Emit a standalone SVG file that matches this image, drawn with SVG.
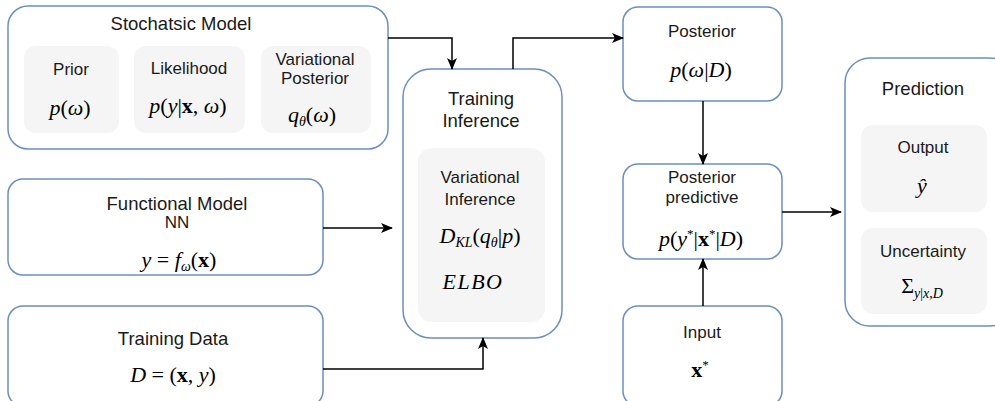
<svg xmlns="http://www.w3.org/2000/svg" width="995" height="401" viewBox="0 0 995 401">
  <defs>
    <marker id="arrow" markerWidth="12" markerHeight="10" refX="11" refY="5" orient="auto" markerUnits="userSpaceOnUse">
      <path d="M0,0 L12,5 L0,10 L3,5 Z" fill="#000"/>
    </marker>
    <style>
      .box { fill: #ffffff; stroke: #6c8ebf; stroke-width: 1.5; }
      .inner { fill: #f5f5f5; stroke: none; }
      .title { font-family: "Liberation Sans", Arial, sans-serif; font-size: 18.5px; fill: #1a1a1a; text-anchor: middle; }
      .label { font-family: "Liberation Sans", Arial, sans-serif; font-size: 17px; fill: #1a1a1a; text-anchor: middle; }
      .math { font-family: "Liberation Serif", "Times New Roman", serif; font-size: 22px; fill: #000; text-anchor: middle; }
      .i { font-style: italic; }
      .b { font-weight: bold; }
      .edge { fill: none; stroke: #000; stroke-width: 1.5; marker-end: url(#arrow); }
    </style>
  </defs>

  <!-- Stochastic model with its three components -->
  <g id="stochastic-model">
    <rect class="box" x="8" y="6" width="380" height="143" rx="20"/>
    <text class="title" x="181" y="30">Stochatsic Model</text>
    <g id="prior">
      <rect class="inner" x="24" y="46" width="95" height="87" rx="12"/>
      <text class="label" x="71" y="75">Prior</text>
      <text class="math" x="70" y="115"><tspan class="i">p</tspan>(<tspan class="i">ω</tspan>)</text>
    </g>
    <g id="likelihood">
      <rect class="inner" x="134" y="46" width="111" height="87" rx="12"/>
      <text class="label" x="189" y="74">Likelihood</text>
      <text class="math" x="188" y="113"><tspan class="i">p</tspan>(<tspan class="i">y</tspan>|<tspan class="b">x</tspan>, <tspan class="i">ω</tspan>)</text>
    </g>
    <g id="variational-posterior">
      <rect class="inner" x="261" y="46" width="110" height="87" rx="12"/>
      <text class="label" x="315" y="65">Variational</text>
      <text class="label" x="315" y="84">Posterior</text>
      <text class="math" x="312" y="122"><tspan class="i">q</tspan><tspan class="i" font-size="14" dy="4">θ</tspan><tspan dy="-4">(</tspan><tspan class="i">ω</tspan>)</text>
    </g>
  </g>

  <!-- Functional model -->
  <g id="functional-model">
    <rect class="box" x="8" y="179" width="315" height="96" rx="15"/>
    <text class="title" x="177" y="210">Functional Model</text>
    <text class="label" x="177" y="228">NN</text>
    <text class="math" x="179" y="267"><tspan class="i">y</tspan> = <tspan class="i">f</tspan><tspan class="i" font-size="14" dy="4">ω</tspan><tspan dy="-4">(</tspan><tspan class="b">x</tspan>)</text>
  </g>

  <!-- Training data -->
  <g id="training-data">
    <rect class="box" x="8" y="306" width="315" height="100" rx="15"/>
    <text class="title" x="173" y="345">Training Data</text>
    <text class="math" x="173" y="382"><tspan class="i">D</tspan> = (<tspan class="b">x</tspan>, <tspan class="i">y</tspan>)</text>
  </g>

  <!-- Training / inference -->
  <g id="training-inference">
    <rect class="box" x="403" y="69" width="159" height="269" rx="28"/>
    <text class="title" x="481" y="105">Training</text>
    <text class="title" x="481" y="127">Inference</text>
    <g id="variational-inference">
      <rect class="inner" x="418" y="148" width="127" height="174" rx="14"/>
      <text class="label" x="480" y="183">Variational</text>
      <text class="label" x="480" y="205">Inference</text>
      <text class="math" x="480" y="243" fill="#3c3c3c"><tspan class="i">D</tspan><tspan class="i" font-size="14" dy="4">KL</tspan><tspan dy="-4">(</tspan><tspan class="i">q</tspan><tspan class="i" font-size="14" dy="4">θ</tspan><tspan dy="-4">|</tspan><tspan class="i">p</tspan>)</text>
      <text class="math i" x="473" y="289" font-size="23" letter-spacing="1.5">ELBO</text>
    </g>
  </g>

  <!-- Posterior -->
  <g id="posterior">
    <rect class="box" x="623" y="7" width="159" height="94" rx="15"/>
    <text class="label" x="702" y="37">Posterior</text>
    <text class="math" x="701" y="77"><tspan class="i">p</tspan>(<tspan class="i">ω</tspan>|<tspan class="i">D</tspan>)</text>
  </g>

  <!-- Posterior predictive -->
  <g id="posterior-predictive">
    <rect class="box" x="623" y="164" width="159" height="95" rx="15"/>
    <text class="label" x="702" y="183">Posterior</text>
    <text class="label" x="702" y="203">predictive</text>
    <text class="math" x="701" y="246"><tspan class="i">p</tspan>(<tspan class="i">y</tspan><tspan font-size="13" dy="-8">*</tspan><tspan dy="8">|</tspan><tspan class="b">x</tspan><tspan font-size="13" dy="-8">*</tspan><tspan dy="8">|</tspan><tspan class="i">D</tspan>)</text>
  </g>

  <!-- Input -->
  <g id="input">
    <rect class="box" x="623" y="306" width="159" height="100" rx="15"/>
    <text class="label" x="702" y="338">Input</text>
    <text class="math" x="700" y="377"><tspan class="b">x</tspan><tspan font-size="13" dy="-8">*</tspan></text>
  </g>

  <!-- Prediction with output and uncertainty -->
  <g id="prediction">
    <rect class="box" x="845" y="58" width="170" height="268" rx="25"/>
    <text class="title" x="923" y="95">Prediction</text>
    <g id="output">
      <rect class="inner" x="861" y="125" width="126" height="87" rx="12"/>
      <text class="label" x="923" y="153">Output</text>
      <text class="math i" x="922" y="193">ŷ</text>
    </g>
    <g id="uncertainty">
      <rect class="inner" x="861" y="228" width="126" height="86" rx="12"/>
      <text class="label" x="923" y="257">Uncertainty</text>
      <text class="math" x="922" y="293">Σ<tspan font-size="14" dy="5"><tspan class="i">y</tspan>|<tspan class="i">x</tspan>,<tspan class="i">D</tspan></tspan></text>
    </g>
  </g>

  <!-- Connectors -->
  <g id="connectors">
    <path class="edge" d="M388,38 H452 V69"/>
    <path class="edge" d="M513,69 V38 H623"/>
    <path class="edge" d="M323,228 H392"/>
    <path class="edge" d="M323,369 H483 V338"/>
    <path class="edge" d="M703,101 V164"/>
    <path class="edge" d="M703,306 V259"/>
    <path class="edge" d="M782,212 H841"/>
  </g>
</svg>
